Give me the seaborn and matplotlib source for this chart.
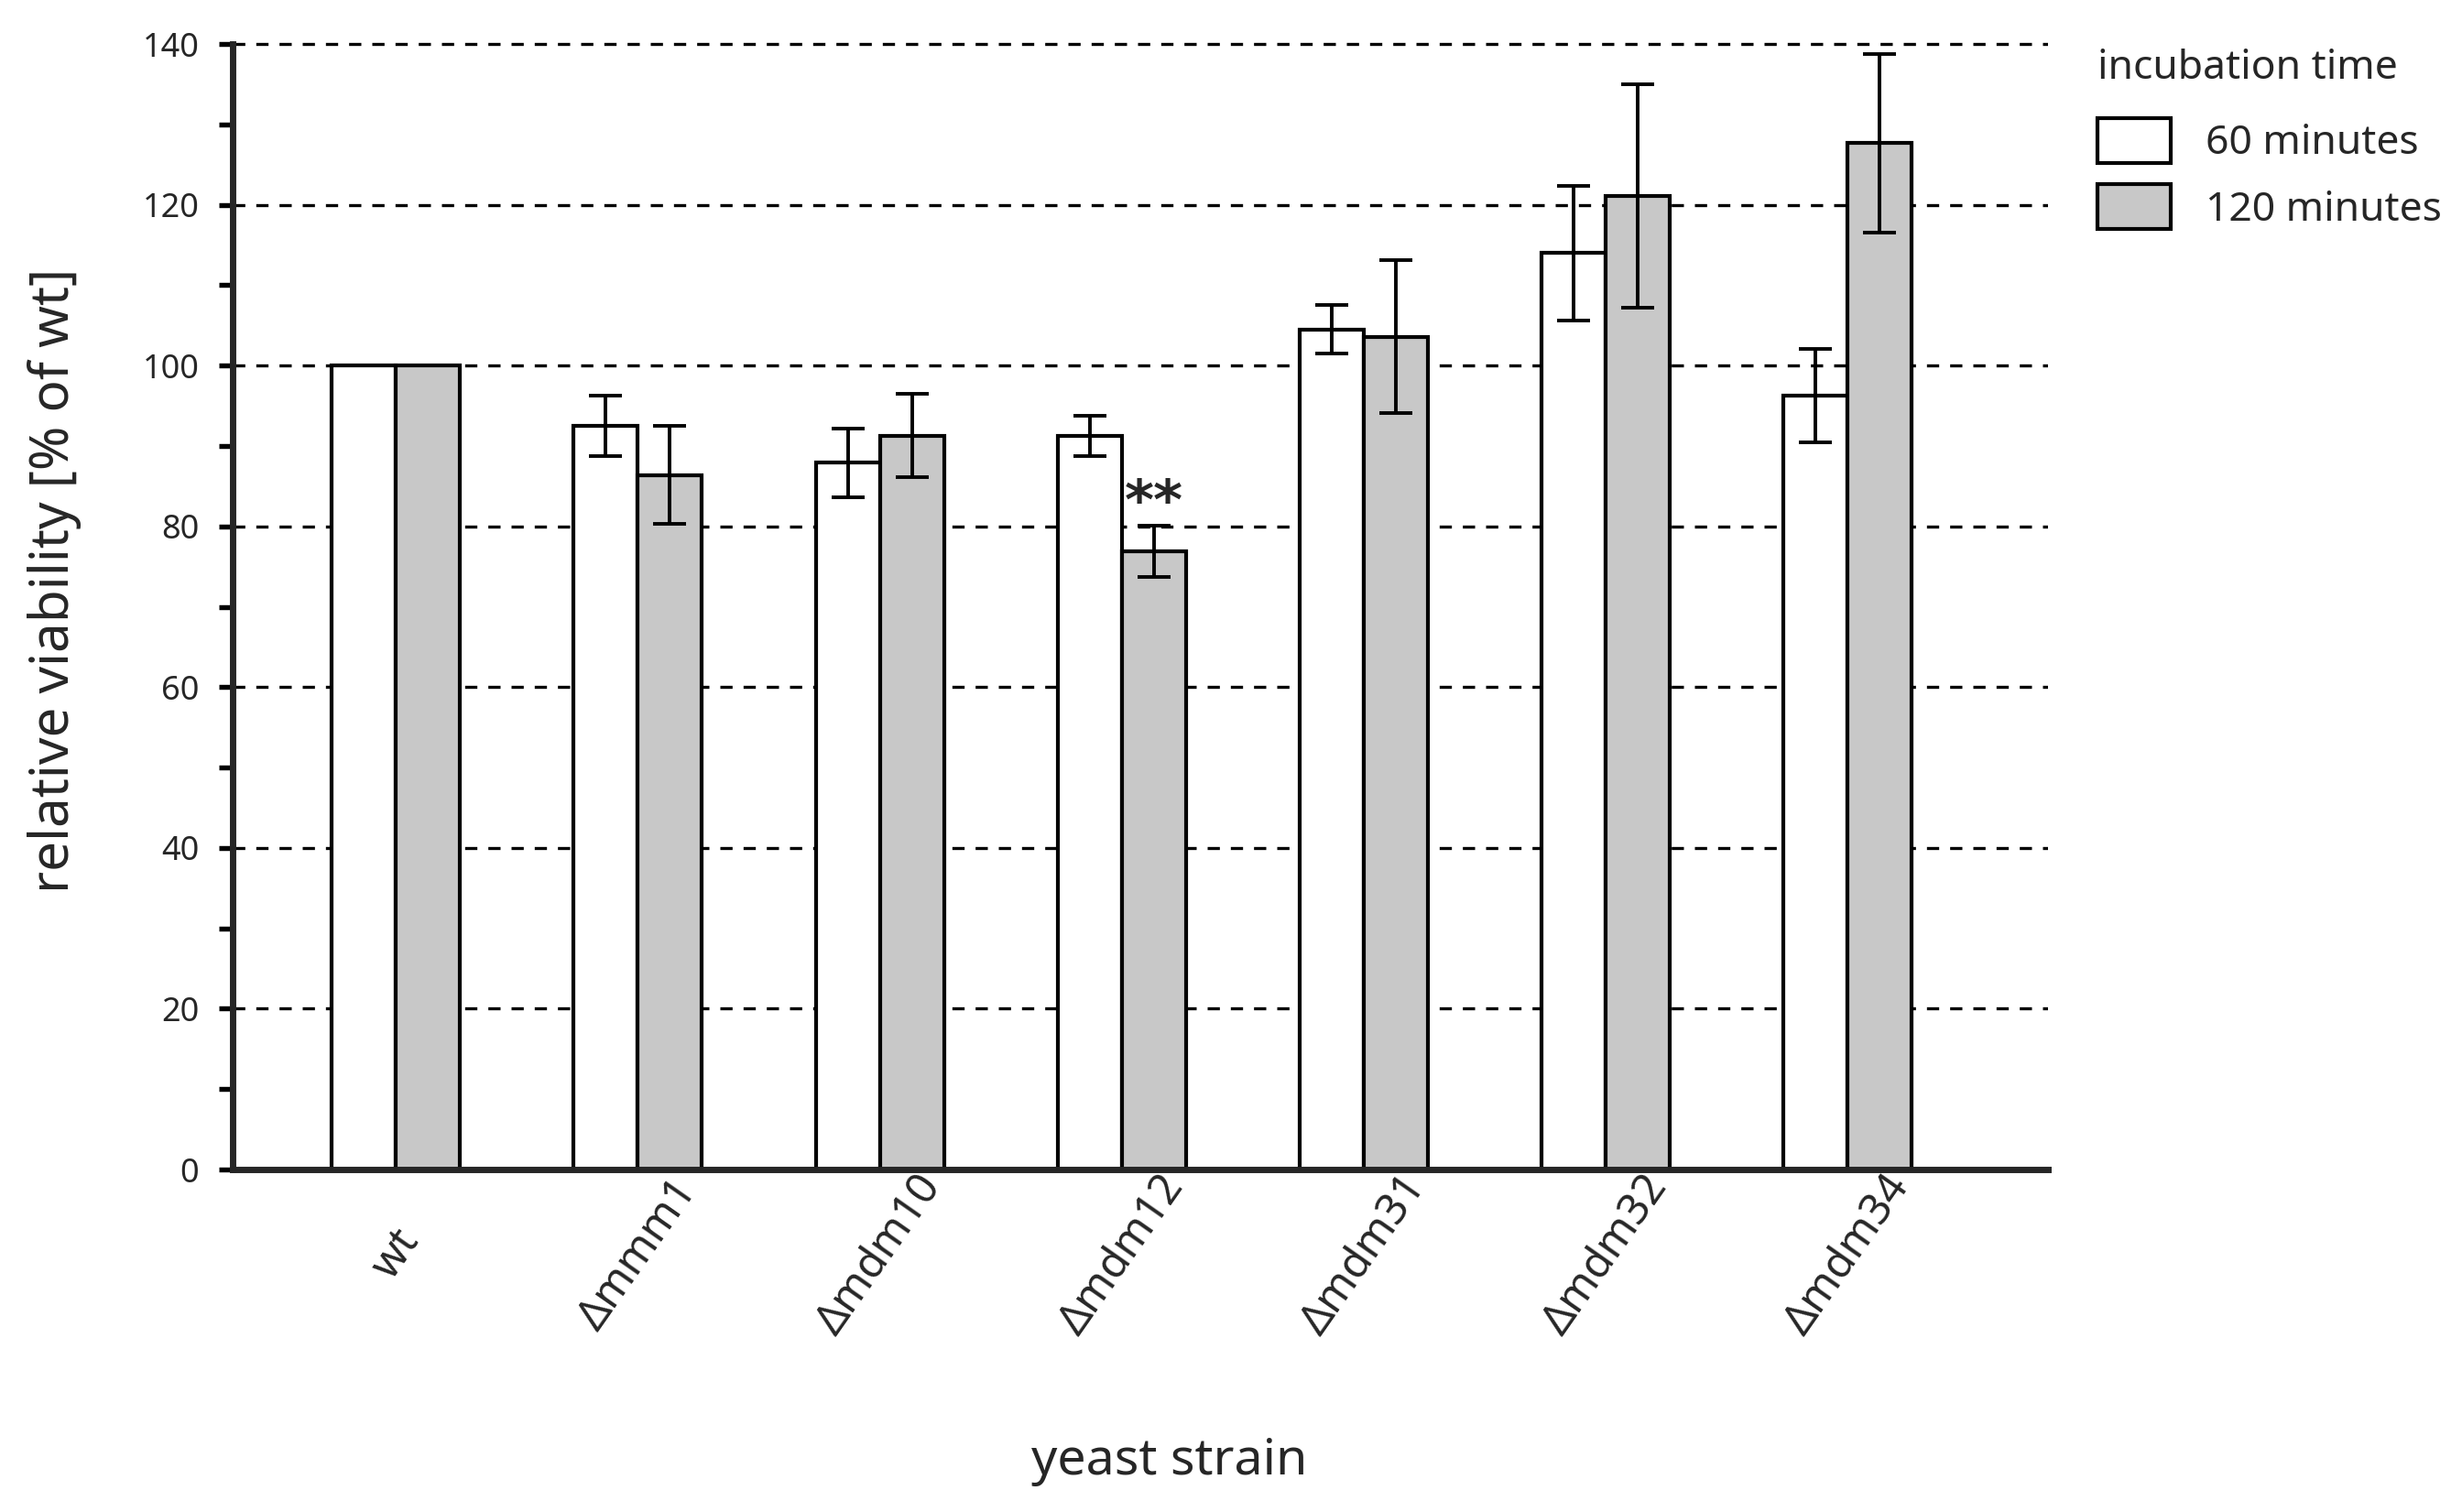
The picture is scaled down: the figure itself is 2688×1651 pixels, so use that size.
import pandas as pd
import seaborn as sns
import matplotlib.pyplot as plt
from matplotlib.patches import Patch
from matplotlib.ticker import MultipleLocator

# values
strains = ["wt", "Δmmm1", "Δmdm10", "Δmdm12", "Δmdm31", "Δmdm32", "Δmdm34"]
times = ["60 minutes", "120 minutes"]
viability_60 = [100, 92.5, 87.9, 91.3, 104.5, 114.0, 96.3]
viability_120 = [100, 86.4, 91.3, 76.9, 103.6, 121.1, 127.7]
err_60 = [0, 3.8, 4.3, 2.5, 3.0, 8.4, 5.8]
err_120 = [0, 6.1, 5.2, 3.2, 9.5, 13.9, 11.1]
colors = ["white", "#c8c8c8"]

df = pd.DataFrame({
    "strain": strains * 2,
    "time": [times[0]] * len(strains) + [times[1]] * len(strains),
    "viability": viability_60 + viability_120,
    "err": err_60 + err_120,
})

sns.set_style("white")
plt.rcParams["font.family"] = ["Noto Sans", "DejaVu Sans"]

fig = plt.figure(figsize=(26.88, 16.51), dpi=100)
ax = fig.add_axes([0.0945, 0.2265, 0.7375, 0.7465])
ax.set_axisbelow(True)

sns.barplot(
    data=df, x="strain", y="viability", hue="time", hue_order=times,
    palette=colors, saturation=1, width=0.53, edgecolor="black",
    linewidth=3, errorbar=None, legend=False, ax=ax,
)

# error bars on top of each bar (wt is the reference, no error)
errs = [err_60, err_120]
for cont, e in zip(ax.containers, errs):
    for bar, err in zip(cont, e):
        if err == 0:
            continue
        xc = bar.get_x() + bar.get_width() / 2
        ax.errorbar(xc, bar.get_height(), yerr=err, fmt="none", ecolor="black",
                    elinewidth=2.8, capsize=13, capthick=2.8, zorder=3)

# significance mark over dmdm12 120 min
b = ax.containers[1][3]
ax.text(b.get_x() + b.get_width() / 2, b.get_height() + 4.0, "**",
        ha="center", va="baseline", fontsize=44, fontweight="bold",
        family="DejaVu Sans")

ax.set_ylim(0, 140.4)
ax.set_xlim(-0.675, 6.83)
ax.yaxis.set_major_locator(MultipleLocator(20))
ax.yaxis.set_minor_locator(MultipleLocator(10))
ax.yaxis.grid(True, which="major", color="black", linewidth=2.4,
              linestyle=(0, (4, 3.6)))

sns.despine(ax=ax, top=True, right=True)
ax.spines["left"].set_linewidth(5)
ax.spines["bottom"].set_linewidth(5)
ax.spines["left"].set_bounds(0, 140)

ax.tick_params(axis="y", which="both", direction="out", length=10.5, width=3.9,
               left=True, color="black")
ax.tick_params(axis="y", which="major", labelsize=26, pad=16)
ax.tick_params(axis="x", length=0, labelsize=34, pad=67)

ax.set_xticks(range(len(strains)))
ax.set_xticklabels(strains, rotation=55, ha="center", va="center",
                   rotation_mode="anchor")

ax.set_ylabel("relative viability [% of wt]", fontsize=42)
ax.yaxis.set_label_coords(-0.083, 0.522)
ax.set_xlabel("yeast strain", fontsize=40)
ax.xaxis.set_label_coords(0.516, -0.236)

handles = [Patch(facecolor=c, edgecolor="black", linewidth=3) for c in colors]
leg = fig.legend(handles, times, title="incubation time", loc="upper left",
                 bbox_to_anchor=(0.852, 0.968), frameon=False, fontsize=32,
                 title_fontsize=32, handlelength=1.8, handleheight=1.33,
                 handletextpad=0.86, labelspacing=0.49, borderpad=0,
                 borderaxespad=0, alignment="left")
leg._legend_box.sep = 23

fig.savefig("out.png", dpi=100)
